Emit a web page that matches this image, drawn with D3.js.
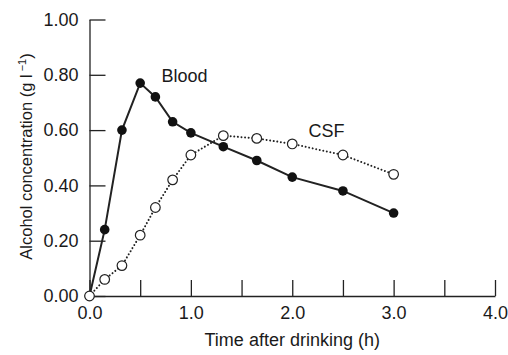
<!DOCTYPE html>
<html>
<head>
<meta charset="utf-8">
<script src="https://cdn.jsdelivr.net/npm/d3@7"></script>
<style>
  html, body { margin: 0; padding: 0; background: #fff; }
  svg { display: block; }
  text { font-family: "Liberation Sans", Arial, Helvetica, sans-serif; fill: #1a1a1a; }
</style>
</head>
<body>
<svg id="chart" width="508" height="355"></svg>
<script>
// Data (time in hours, concentration in g/l)
const times = [0, 0.15, 0.32, 0.5, 0.65, 0.82, 1.0, 1.32, 1.65, 2.0, 2.5, 3.0];
const bloodValues = [0, 0.24, 0.60, 0.77, 0.72, 0.63, 0.59, 0.54, 0.49, 0.43, 0.38, 0.30];
const csfValues   = [0, 0.06, 0.11, 0.22, 0.32, 0.42, 0.51, 0.58, 0.57, 0.55, 0.51, 0.44];
const xTicks = [0, 0.5, 1, 1.5, 2, 2.5, 3, 3.5, 4];
const yTicks = [0, 0.2, 0.4, 0.6, 0.8, 1.0];
const seriesLabels = ["Blood", "CSF"];
const xTitle = "Time after drinking (h)";
const yTitle = "Alcohol concentration (g l";

const svg = d3.select("#chart");
const x = d3.scaleLinear().domain([0, 4]).range([89.5, 495]);
const y = d3.scaleLinear().domain([0, 1]).range([296, 19.5]);
const ink = "#222";

// Y axis
const yAxis = svg.append("g")
  .attr("transform", `translate(${x(0)},0)`)
  .call(d3.axisLeft(y).tickValues(yTicks).tickSizeInner(-16).tickSizeOuter(0)
    .tickPadding(11).tickFormat(d3.format(".2f")));
// X axis
const xAxis = svg.append("g")
  .attr("transform", `translate(0,${y(0)})`)
  .call(d3.axisBottom(x).tickValues(xTicks).tickSizeInner(-16).tickSizeOuter(0)
    .tickPadding(10).tickFormat(d => Number.isInteger(d) ? d3.format(".1f")(d) : ""));

[xAxis, yAxis].forEach(g => {
  g.selectAll("path.domain").attr("stroke", ink).attr("stroke-width", 1.3);
  g.selectAll(".tick line").attr("stroke", ink).attr("stroke-width", 1.3);
  g.selectAll(".tick text").attr("font-size", 18).attr("fill", "#1a1a1a")
    .attr("font-family", "'Liberation Sans', Arial, sans-serif");
});

// Lines
const line = d3.line().x((d, i) => x(times[i])).y(d => y(d));
svg.append("path").datum(csfValues).attr("d", line)
  .attr("fill", "none").attr("stroke", ink).attr("stroke-width", 2)
  .attr("stroke-linecap", "round").attr("stroke-dasharray", "0.01,3.6");
svg.append("path").datum(bloodValues).attr("d", line)
  .attr("fill", "none").attr("stroke", ink).attr("stroke-width", 2);

// Markers
svg.append("g").selectAll("circle").data(bloodValues).join("circle")
  .attr("cx", (d, i) => x(times[i])).attr("cy", d => y(d)).attr("r", 4.8)
  .attr("fill", "#111");
svg.append("g").selectAll("circle").data(csfValues).join("circle")
  .attr("cx", (d, i) => x(times[i])).attr("cy", d => y(d)).attr("r", 4.8)
  .attr("fill", "#fff").attr("stroke", ink).attr("stroke-width", 1.2);

// Series labels
svg.append("text").attr("x", x(0.71)).attr("y", y(0.775)).attr("font-size", 18)
  .text(seriesLabels[0]);
svg.append("text").attr("x", x(2.16)).attr("y", y(0.575)).attr("font-size", 18)
  .text(seriesLabels[1]);

// Axis titles
svg.append("text").attr("x", (x(0) + x(4)) / 2).attr("y", 346)
  .attr("text-anchor", "middle").attr("font-size", 18).text(xTitle);
const yt = svg.append("text")
  .attr("transform", `translate(32,156.5) rotate(-90)`)
  .attr("text-anchor", "middle").attr("font-size", 16.5);
yt.append("tspan").text(yTitle);
yt.append("tspan").attr("font-size", 11).attr("dy", -6.5).text(" \u22121");
yt.append("tspan").attr("dy", 6.5).text(")");
</script>
</body>
</html>
